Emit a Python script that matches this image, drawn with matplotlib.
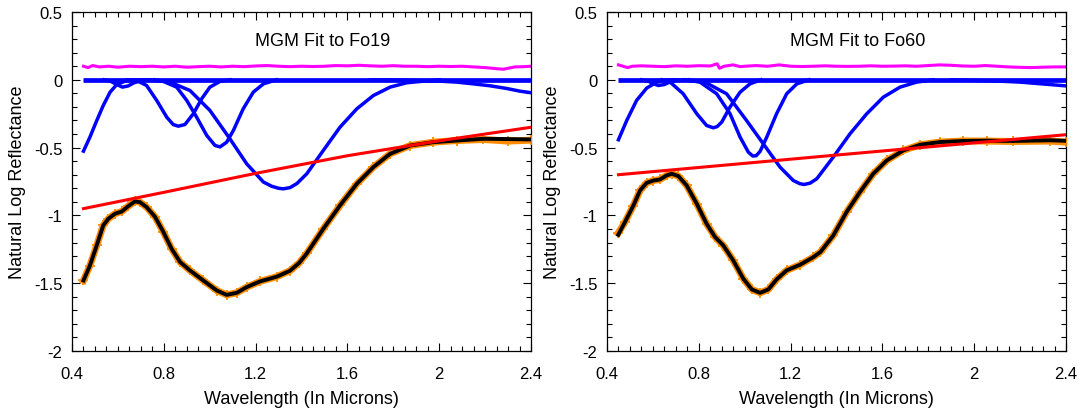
import matplotlib
matplotlib.use('Agg')
import matplotlib.pyplot as plt
from matplotlib.ticker import MultipleLocator, FormatStrFormatter

plt.rcParams['font.family'] = ['Liberation Sans', 'DejaVu Sans']
plt.rcParams['axes.unicode_minus'] = False

# ---- Fo19 (left panel) ----
spec_x_L = [0.45, 0.478, 0.508, 0.536, 0.558, 0.587, 0.617, 0.645, 0.674, 0.696,
            0.725, 0.762, 0.798, 0.834, 0.871, 0.914, 0.972, 1.031, 1.074, 1.118,
            1.161, 1.219, 1.292, 1.35, 1.39, 1.423, 1.495, 1.568, 1.641, 1.713,
            1.786, 1.873, 1.974, 2.076, 2.192, 2.30, 2.4]
spec_y_L = [-1.48, -1.37, -1.22, -1.074, -1.025, -0.988, -0.971, -0.932, -0.897, -0.902,
            -0.939, -1.011, -1.122, -1.246, -1.344, -1.406, -1.48, -1.554, -1.586, -1.571,
            -1.529, -1.487, -1.452, -1.408, -1.35, -1.28, -1.099, -0.926, -0.767, -0.644,
            -0.546, -0.485, -0.46, -0.448, -0.435, -0.437, -0.44]
data_y_L = [-1.48, -1.37, -1.22, -1.074, -1.025, -0.988, -0.971, -0.932, -0.897, -0.902,
            -0.939, -1.011, -1.122, -1.246, -1.344, -1.406, -1.48, -1.554, -1.586, -1.571,
            -1.529, -1.487, -1.452, -1.408, -1.35, -1.28, -1.099, -0.926, -0.767, -0.644,
            -0.546, -0.485, -0.46, -0.448, -0.44, -0.452, -0.445]
cont_x_L = [0.45, 0.8, 1.2, 1.6, 2.0, 2.4]
cont_y_L = [-0.95, -0.83, -0.69, -0.56, -0.45, -0.35]
resid_x_L = [0.45, 0.47, 0.49, 0.52, 0.56, 0.6, 0.65, 0.7, 0.75, 0.8, 0.85, 0.9, 0.95,
             1.0, 1.05, 1.1, 1.15, 1.2, 1.25, 1.3, 1.35, 1.4, 1.45, 1.5, 1.55, 1.6,
             1.65, 1.7, 1.75, 1.8, 1.85, 1.9, 1.95, 2.0, 2.05, 2.1, 2.15, 2.2, 2.25,
             2.28, 2.3, 2.33, 2.37, 2.4]
resid_y_L = [0.10, 0.09, 0.105, 0.095, 0.1, 0.093, 0.1, 0.097, 0.1, 0.095, 0.1, 0.093,
             0.097, 0.1, 0.095, 0.1, 0.097, 0.102, 0.105, 0.1, 0.097, 0.1, 0.098, 0.1,
             0.105, 0.103, 0.107, 0.103, 0.1, 0.104, 0.1, 0.1, 0.097, 0.1, 0.098, 0.1,
             0.095, 0.09, 0.082, 0.078, 0.085, 0.095, 0.097, 0.1]
bands_L = [
    ([0.45, 0.478, 0.508, 0.536, 0.566, 0.595, 0.631, 0.67, 0.72],
     [-0.526, -0.423, -0.30, -0.19, -0.091, -0.035, -0.01, -0.002, 0]),
    ([0.54, 0.57, 0.595, 0.62, 0.645, 0.67, 0.70, 0.74],
     [0, -0.012, -0.035, -0.054, -0.045, -0.022, -0.007, 0]),
    ([0.64, 0.682, 0.725, 0.769, 0.813, 0.841, 0.863, 0.892, 0.929, 0.965, 1.001, 1.045, 1.09],
     [0, -0.005, -0.042, -0.152, -0.276, -0.33, -0.342, -0.33, -0.25, -0.14, -0.054, -0.012, 0]),
    ([0.72, 0.798, 0.856, 0.9, 0.943, 0.987, 1.023, 1.045, 1.074, 1.103, 1.146, 1.19, 1.234, 1.29],
     [0, -0.012, -0.054, -0.152, -0.275, -0.41, -0.484, -0.495, -0.46, -0.374, -0.214, -0.091, -0.03, 0]),
    ([0.76, 0.827, 0.914, 1.001, 1.088, 1.161, 1.234, 1.27, 1.30, 1.321, 1.35, 1.38, 1.423, 1.495,
      1.568, 1.641, 1.713, 1.786, 1.858, 1.931, 2.0],
     [0, -0.017, -0.079, -0.226, -0.435, -0.619, -0.754, -0.785, -0.8, -0.804, -0.795, -0.765, -0.693, -0.521,
      -0.349, -0.214, -0.116, -0.054, -0.022, -0.01, 0]),
    ([1.7, 1.85, 2.003, 2.076, 2.149, 2.221, 2.294, 2.352, 2.4],
     [0, -0.003, -0.01, -0.017, -0.03, -0.044, -0.064, -0.084, -0.095]),
]

# ---- Fo60 (right panel) ----
spec_x_R = [0.449, 0.478, 0.515, 0.544, 0.573, 0.602, 0.631, 0.66, 0.682, 0.711,
            0.747, 0.791, 0.834, 0.871, 0.907, 0.95, 0.994, 1.031, 1.067, 1.103,
            1.139, 1.183, 1.241, 1.299, 1.33, 1.386, 1.444, 1.502, 1.56, 1.619,
            1.691, 1.764, 1.851, 1.953, 2.054, 2.17, 2.33, 2.4]
spec_y_R = [-1.143, -1.05, -0.927, -0.816, -0.76, -0.743, -0.735, -0.705, -0.693, -0.71,
            -0.779, -0.914, -1.062, -1.16, -1.222, -1.332, -1.467, -1.546, -1.571, -1.546,
            -1.472, -1.405, -1.364, -1.308, -1.27, -1.148, -0.975, -0.828, -0.693, -0.595,
            -0.521, -0.479, -0.459, -0.451, -0.449, -0.451, -0.446, -0.45]
data_y_R = [-1.13, -1.05, -0.927, -0.816, -0.76, -0.743, -0.735, -0.705, -0.693, -0.71,
            -0.779, -0.914, -1.062, -1.16, -1.222, -1.332, -1.467, -1.546, -1.571, -1.546,
            -1.472, -1.405, -1.364, -1.308, -1.27, -1.148, -0.975, -0.828, -0.693, -0.595,
            -0.521, -0.479, -0.459, -0.451, -0.452, -0.455, -0.452, -0.46]
cont_x_R = [0.45, 1.4, 2.4]
cont_y_R = [-0.70, -0.555, -0.405]
resid_x_R = [0.45, 0.47, 0.49, 0.51, 0.55, 0.6, 0.65, 0.7, 0.75, 0.8, 0.85, 0.88, 0.89,
             0.91, 0.95, 0.98, 1.0, 1.05, 1.1, 1.15, 1.2, 1.25, 1.3, 1.35, 1.4, 1.45,
             1.5, 1.55, 1.6, 1.65, 1.7, 1.75, 1.8, 1.85, 1.9, 1.95, 2.0, 2.05, 2.1,
             2.15, 2.2, 2.25, 2.3, 2.35, 2.4]
resid_y_R = [0.11, 0.1, 0.09, 0.1, 0.103, 0.1, 0.097, 0.103, 0.1, 0.104, 0.102, 0.118,
             0.085, 0.1, 0.11, 0.097, 0.1, 0.105, 0.1, 0.11, 0.1, 0.098, 0.1, 0.103, 0.1,
             0.099, 0.1, 0.103, 0.1, 0.101, 0.103, 0.1, 0.105, 0.11, 0.107, 0.102, 0.1,
             0.105, 0.1, 0.095, 0.092, 0.09, 0.093, 0.095, 0.095]
bands_R = [
    ([0.45, 0.486, 0.529, 0.573, 0.617, 0.66, 0.70],
     [-0.442, -0.30, -0.152, -0.061, -0.017, -0.003, 0]),
    ([0.55, 0.58, 0.60, 0.624, 0.65, 0.675, 0.70, 0.74],
     [0, -0.01, -0.028, -0.042, -0.035, -0.015, -0.005, 0]),
    ([0.64, 0.675, 0.732, 0.791, 0.834, 0.863, 0.88, 0.90, 0.936, 0.98, 1.023, 1.07],
     [0, -0.017, -0.103, -0.25, -0.337, -0.354, -0.345, -0.312, -0.201, -0.091, -0.03, 0]),
    ([0.74, 0.805, 0.878, 0.936, 0.98, 1.016, 1.035, 1.05, 1.067, 1.096, 1.139, 1.183, 1.227, 1.28],
     [0, -0.017, -0.103, -0.25, -0.423, -0.534, -0.562, -0.56, -0.528, -0.423, -0.25, -0.103, -0.03, 0]),
    ([0.76, 0.834, 0.921, 1.008, 1.081, 1.154, 1.212, 1.24, 1.258, 1.285, 1.314, 1.386, 1.459, 1.532,
      1.604, 1.677, 1.749, 1.82],
     [0, -0.024, -0.103, -0.30, -0.472, -0.644, -0.743, -0.766, -0.772, -0.762, -0.73, -0.57, -0.398, -0.25,
      -0.128, -0.054, -0.017, 0]),
    ([1.9, 2.112, 2.2, 2.33, 2.4],
     [0, -0.01, -0.017, -0.035, -0.045]),
]

base_x = [0.45, 2.4]
base_y = [0, 0]


def draw_panel(ax, title, sx, sy, dy, cx, cy, rx, ry, bands):
    ax.plot(rx, ry, color='#ff00ff', lw=2.2, zorder=2)
    ax.plot(base_x, base_y, color='#0000ff', lw=3.4, solid_capstyle='butt', zorder=3)
    for bx, by in bands:
        ax.plot(bx, by, color='#0000ff', lw=2.5, zorder=3)
    ax.plot(sx, dy, color='#ff8c00', lw=5, zorder=4)
    ax.plot(sx, dy, ls='none', marker='+', ms=7, mew=1.3, color='#ff8c00', zorder=4)
    ax.plot(sx, sy, color='black', lw=2.8, zorder=5)
    ax.plot(cx, cy, color='#ff0000', lw=2.2, zorder=6)

    ax.set_xlim(0.4, 2.4)
    ax.set_ylim(-2, 0.5)
    ax.xaxis.set_major_locator(MultipleLocator(0.4))
    ax.xaxis.set_minor_locator(MultipleLocator(0.05))
    ax.yaxis.set_major_locator(MultipleLocator(0.5))
    ax.yaxis.set_minor_locator(MultipleLocator(0.1))
    ax.xaxis.set_major_formatter(FormatStrFormatter('%g'))
    ax.yaxis.set_major_formatter(FormatStrFormatter('%g'))
    ax.tick_params(which='both', direction='in', top=True, right=True, width=0.8)
    ax.tick_params(which='major', length=6, labelsize=12)
    ax.tick_params(axis='y', which='major', pad=7)
    ax.tick_params(axis='x', which='major', pad=11)
    ax.tick_params(which='minor', length=3.5)
    for s in ax.spines.values():
        s.set_linewidth(0.9)
    ax.text(0.547, 0.916, title, transform=ax.transAxes, ha='center', va='center', fontsize=13)
    ax.set_xlabel('Wavelength (In Microns)', fontsize=13, labelpad=6)
    ax.set_ylabel('Natural Log Reflectance', fontsize=13)
    ax.yaxis.set_label_coords(-0.1, 0.5)


fig = plt.figure(figsize=(10.79, 4.10), dpi=100)
ax1 = fig.add_axes([72 / 1079, 1 - 352 / 410, 459 / 1079, 339 / 410])
ax2 = fig.add_axes([607 / 1079, 1 - 352 / 410, 459 / 1079, 339 / 410])

draw_panel(ax1, 'MGM Fit to Fo19', spec_x_L, spec_y_L, data_y_L, cont_x_L, cont_y_L,
           resid_x_L, resid_y_L, bands_L)
draw_panel(ax2, 'MGM Fit to Fo60', spec_x_R, spec_y_R, data_y_R, cont_x_R, cont_y_R,
           resid_x_R, resid_y_R, bands_R)

fig.savefig('out.png', dpi=100)
